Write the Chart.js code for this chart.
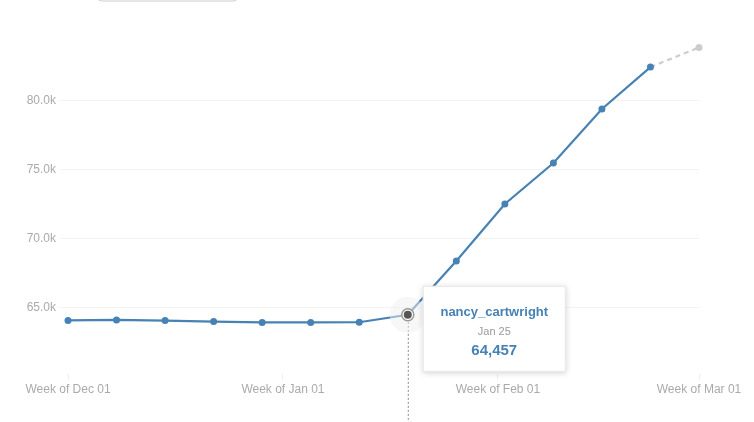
<!DOCTYPE html>
<html>
<head>
<meta charset="utf-8">
<script src="https://cdn.jsdelivr.net/npm/chart.js@4"></script>
<style>
  html, body { margin: 0; padding: 0; background: #fff; }
  #wrap { width: 754px; height: 422px; position: relative; }
</style>
</head>
<body>
<div id="wrap"><canvas id="chart_users"></canvas></div>
<script>
// weekly points, x = days since Dec 01
const weeks = ['Dec 01','Dec 08','Dec 15','Dec 22','Dec 29','Jan 05','Jan 12','Jan 19','Jan 26','Feb 02','Feb 09','Feb 16','Feb 23','Mar 01'];
const weekDay = [0,7,14,21,28,35,42,49,56,63,70,77,84,91];
const users = [64050,64090,64040,63970,63910,63910,63920,64457,68360,72490,75460,79370,82410,83830];

const xTickDays = [0,31,62,91];
const xTickLabels = ['Week of Dec 01','Week of Jan 01','Week of Feb 01','Week of Mar 01'];
const yTicks = [65000,70000,75000,80000];

const seriesName = 'nancy_cartwright';
const hoverIndex = 7;
const hoverDate = 'Jan 25';

const blue = '#4682b4';
const font = 'Helvetica, Arial, sans-serif';

// dropdown edge above the chart + hover marker + tooltip
const overlay = {
  id: 'overlay',
  afterDatasetsDraw(chart) {
    const ctx = chart.ctx;
    const pt = chart.getDatasetMeta(0).data[hoverIndex];
    const x = pt.x, y = pt.y;

    ctx.save();
    // box edge at top
    ctx.strokeStyle = '#cccccc';
    ctx.lineWidth = 1;
    ctx.beginPath();
    ctx.roundRect(97.5, -20, 140, 21, 4);
    ctx.stroke();

    // dotted drop line
    ctx.strokeStyle = '#888';
    ctx.setLineDash([2, 2]);
    ctx.beginPath();
    ctx.moveTo(x + 0.5, y + 7);
    ctx.lineTo(x + 0.5, 422);
    ctx.stroke();
    ctx.setLineDash([]);

    // halo
    ctx.fillStyle = 'rgba(240,240,240,0.5)';
    ctx.beginPath();
    ctx.arc(x, y, 18, 0, Math.PI * 2);
    ctx.fill();

    // ring + dot
    ctx.fillStyle = '#fff';
    ctx.strokeStyle = '#999';
    ctx.lineWidth = 1.5;
    ctx.beginPath();
    ctx.arc(x, y, 6, 0, Math.PI * 2);
    ctx.fill();
    ctx.stroke();
    ctx.fillStyle = '#555';
    ctx.beginPath();
    ctx.arc(x, y, 4, 0, Math.PI * 2);
    ctx.fill();

    // tooltip
    const bx = x + 15, by = y - 29, bw = 143, bh = 86;
    ctx.shadowColor = 'rgba(0,0,0,0.18)';
    ctx.shadowBlur = 6;
    ctx.shadowOffsetY = 1;
    ctx.fillStyle = '#fff';
    ctx.fillRect(bx, by, bw, bh);
    ctx.shadowColor = 'transparent';
    ctx.strokeStyle = '#e6e6e6';
    ctx.lineWidth = 1;
    ctx.strokeRect(bx + 0.5, by + 0.5, bw - 1, bh - 1);

    const cx = bx + bw / 2;
    ctx.textAlign = 'center';
    ctx.textBaseline = 'middle';
    ctx.fillStyle = blue;
    ctx.font = 'bold 13px ' + font;
    ctx.fillText(seriesName, cx, by + 27);
    ctx.fillStyle = '#999';
    ctx.font = '11px ' + font;
    ctx.fillText(hoverDate, cx, by + 46);
    ctx.fillStyle = blue;
    ctx.font = 'bold 15px ' + font;
    ctx.fillText(users[hoverIndex].toLocaleString('en-US'), cx, by + 65);
    ctx.restore();
  }
};

const lastIdx = users.length - 1;
const usersChart = new Chart(document.getElementById('chart_users'), {
  type: 'line',
  data: {
    labels: weeks,
    datasets: [{
      label: seriesName,
      data: weekDay.map((d, i) => ({ x: d, y: users[i] })),
      borderColor: blue,
      borderWidth: 2.2,
      pointRadius: 3.5,
      pointBorderWidth: 0,
      pointBackgroundColor: users.map((v, i) => i === lastIdx ? '#cccccc' : blue),
      tension: 0,
      clip: false,
      segment: {
        borderColor: c => c.p1DataIndex === lastIdx ? '#cccccc' : undefined,
        borderDash: c => c.p1DataIndex === lastIdx ? [5, 4] : undefined
      }
    }]
  },
  options: {
    responsive: true,
    maintainAspectRatio: false,
    animation: false,
    events: [],
    layout: { padding: { top: 32, right: 55, left: 0, bottom: 0 } },
    plugins: {
      legend: { display: false },
      tooltip: { enabled: false }
    },
    scales: {
      x: {
        type: 'linear',
        min: -1.3,
        max: 91,
        afterBuildTicks: s => { s.ticks = xTickDays.map(v => ({ value: v })); },
        afterFit: s => { s.height = 48; },
        border: { display: false },
        grid: { drawOnChartArea: false, tickLength: 6, color: '#efefef' },
        ticks: {
          autoSkip: false,
          maxRotation: 0,
          padding: 2,
          color: '#aaaaaa',
          font: { family: font, size: 12 },
          callback: v => xTickLabels[xTickDays.indexOf(v)]
        }
      },
      y: {
        min: 60170,
        max: 84950,
        afterBuildTicks: s => { s.ticks = yTicks.map(v => ({ value: v })); },
        afterFit: s => { s.width = 59; },
        border: { display: false },
        grid: { drawTicks: false, color: '#f3f3f3' },
        ticks: {
          padding: 3,
          color: '#aaaaaa',
          font: { family: font, size: 12 },
          callback: v => (v / 1000).toFixed(1) + 'k'
        }
      }
    }
  },
  plugins: [overlay]
});
</script>
</body>
</html>
